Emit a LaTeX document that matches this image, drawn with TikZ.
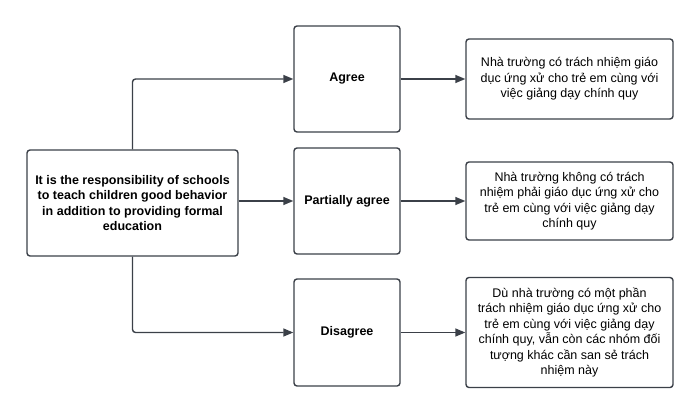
\documentclass[tikz,border=0pt]{standalone}
\usepackage{fontspec}
\setmainfont{Liberation Sans}
\usetikzlibrary{arrows.meta}
\usetikzlibrary{positioning}

\definecolor{linegray}{HTML}{3B4048}

\begin{document}
\begin{tikzpicture}[x=1pt,y=-1pt,
		box/.style={draw=linegray, line width=1.4pt, rounded corners=3pt, align=center, inner sep=0pt, font=\fontsize{12.5}{15.5}\selectfont},
		conn/.style={draw=linegray, line width=1.4pt, rounded corners=3pt, -{Triangle[length=10pt,width=8pt]}}]
		\useasboundingbox (0,0) rectangle (700,414);
		\node[box, minimum width=211pt, minimum height=106pt, font=\bfseries\fontsize{12.5}{15.5}\selectfont] (q) at (132.5,203) {It is the responsibility of schools\\to teach children good behavior\\in addition to providing formal\\education};
		\node[box, minimum width=106pt, minimum height=106pt, font=\bfseries\fontsize{12.5}{15.5}\selectfont] (agree) at (347,79) {Agree};
		\node[box, minimum width=106pt, minimum height=106pt, font=\bfseries\fontsize{12.5}{15.5}\selectfont] (partial) at (347,201) {Partially agree};
		\node[box, minimum width=106pt, minimum height=107pt, font=\bfseries\fontsize{12.5}{15.5}\selectfont] (disagree) at (347,332.5) {Disagree};
		\node[box, minimum width=207pt, minimum height=80pt] (agreetxt) at (569.5,79) {Nhà trường có trách nhiệm giáo\\dục ứng xử cho trẻ em cùng với\\việc giảng dạy chính quy};
		\node[box, minimum width=207pt, minimum height=78pt] (partialtxt) at (569.5,201) {Nhà trường không có trách\\nhiệm phải giáo dục ứng xử cho\\trẻ em cùng với việc giảng dạy\\chính quy};
		\node[box, minimum width=207pt, minimum height=110pt] (disagreetxt) at (569.5,332.5) {Dù nhà trường có một phần\\trách nhiệm giáo dục ứng xử cho\\trẻ em cùng với việc giảng dạy\\chính quy, vẫn còn các nhóm đối\\tượng khác cần san sẻ trách\\nhiệm này};
		\draw[conn] (q.north) |- (agree.west);
		\draw[conn] (q.east |- partial.west) -- (partial.west);
		\draw[conn] (q.south) |- (disagree.west);
		\draw[conn] (agree.east) -- (agreetxt.west);
		\draw[conn] (partial.east) -- (partialtxt.west);
		\draw[conn] (disagree.east) -- (disagreetxt.west);
	\end{tikzpicture}
\end{document}
